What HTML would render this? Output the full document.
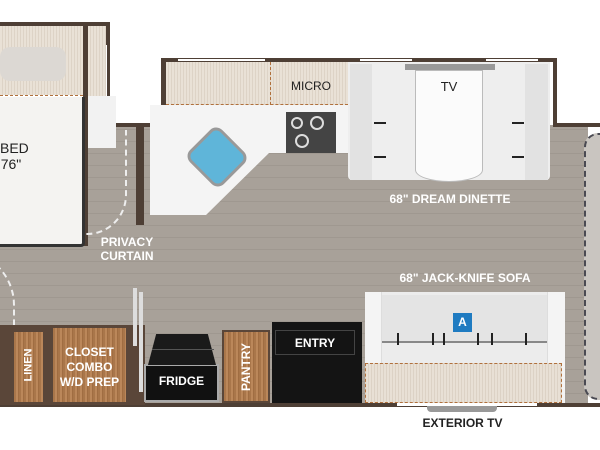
<!DOCTYPE html>
<html><head><style>
*{margin:0;padding:0;box-sizing:border-box}
body{width:600px;height:450px;background:#fff;position:relative;overflow:hidden;font-family:"Liberation Sans",sans-serif}
.a{position:absolute}
.floor{background:repeating-linear-gradient(0deg,#a8a199 0 11px,#9f9890 11px 12px)}
.wall{background:#4e3f35}
.wood{background:repeating-linear-gradient(90deg,#a9764a 0 2px,#bb875a 2px 4px,#a06d42 4px 5px)}
.lwood{background:repeating-linear-gradient(90deg,#e9e1d6 0 2px,#ddd3c6 2px 3px)}
.t{position:absolute;font-weight:bold;text-align:center;line-height:14px}
.w{color:#fff}
.k{color:#222}
</style></head><body>
<div class="a floor" style="left:88px;top:125px;width:500px;height:280px"></div>
<div class="a floor" style="left:0;top:240px;width:100px;height:165px"></div>
<div class="a" style="left:584px;top:133px;width:20px;height:267px;background:#c9c5c0;border:2px dashed #4a4a52;border-right:none;border-radius:14px 0 0 14px"></div>
<div class="a wall" style="left:0;top:22px;width:110px;height:4px"></div>
<div class="a wall" style="left:83px;top:26px;width:5px;height:220px"></div>
<div class="a wall" style="left:106px;top:22px;width:4px;height:105px"></div>
<div class="a wall" style="left:106px;top:123px;width:60px;height:4px"></div>
<div class="a wall" style="left:161px;top:58px;width:5px;height:69px"></div>
<div class="a wall" style="left:161px;top:58px;width:396px;height:4px"></div>
<div class="a wall" style="left:553px;top:58px;width:4px;height:69px"></div>
<div class="a wall" style="left:553px;top:123px;width:47px;height:4px"></div>
<div class="a wall" style="left:136px;top:127px;width:8px;height:98px"></div>
<div class="a wall" style="left:0;top:403px;width:600px;height:4px"></div>
<div class="a" style="left:105px;top:45px;width:2px;height:70px;background:#fff"></div>
<div class="a" style="left:178px;top:59px;width:87px;height:2px;background:#fff"></div>
<div class="a" style="left:360px;top:59px;width:52px;height:2px;background:#fff"></div>
<div class="a" style="left:486px;top:59px;width:52px;height:2px;background:#fff"></div>
<div class="a lwood" style="left:0;top:26px;width:83px;height:69px"></div>
<div class="a" style="left:0;top:47px;width:66px;height:34px;background:#dcd8d3;border-radius:10px"></div>
<div class="a" style="left:0;top:95px;width:83px;height:2px;border-top:1px dashed #b0703c"></div>
<div class="a" style="left:0;top:97px;width:85px;height:150px;background:#f4f3f1;border:3px solid #333;border-left:none;border-top:none;border-radius:0 0 4px 0"></div>
<div class="t k" style="left:0;top:140px;width:22px;font-size:14px;font-weight:normal;line-height:16px">BED<br>76"</div>
<div class="a lwood" style="left:88px;top:26px;width:18px;height:70px"></div>
<div class="a" style="left:88px;top:96px;width:28px;height:52px;background:#f2f2f2"></div>
<div class="a" style="left:85px;top:130px;width:42px;height:105px;border-right:2px dashed #eee;border-bottom:2px dashed #eee;border-radius:0 0 40px 0"></div>
<div class="a" style="left:-40px;top:250px;width:55px;height:150px;border:2px dashed #eee;border-left:none;border-radius:0 60px 60px 0"></div>
<div class="t w" style="left:96px;top:235px;width:62px;font-size:12px">PRIVACY<br>CURTAIN</div>
<div class="a lwood" style="left:166px;top:62px;width:182px;height:43px"></div>
<div class="a" style="left:166px;top:104px;width:182px;height:2px;border-top:1px dashed #b0703c"></div>
<div class="a" style="left:270px;top:62px;width:2px;height:43px;border-left:1px dashed #b0703c"></div>
<div class="t k" style="left:280px;top:79px;width:62px;font-size:12px;font-weight:normal">MICRO</div>
<svg class="a" style="left:144px;top:105px" width="206" height="120"><polygon points="6,0 204,0 204,48 125,48 62,110 6,110" fill="#f4f4f4"/><rect x="142" y="7" width="50" height="41" fill="#444"/><circle cx="153" cy="18" r="5" fill="none" stroke="#ddd" stroke-width="2"/><circle cx="173" cy="18" r="6" fill="none" stroke="#ddd" stroke-width="2"/><circle cx="158" cy="36" r="6" fill="none" stroke="#ddd" stroke-width="2"/></svg>
<div class="a" style="left:193px;top:133px;width:48px;height:48px;background:#5fb5d9;border:3px solid #999;border-radius:9px;transform:rotate(45deg) scaleY(.95)"></div>
<div class="a" style="left:348px;top:62px;width:202px;height:118px;background:#eeeeee;border-radius:0 0 4px 4px"></div>
<div class="a" style="left:350px;top:64px;width:22px;height:116px;background:#e2e2e2"></div>
<div class="a" style="left:525px;top:64px;width:23px;height:116px;background:#e2e2e2"></div>
<div class="a" style="left:405px;top:64px;width:90px;height:6px;background:#999"></div>
<div class="a" style="left:415px;top:70px;width:68px;height:112px;background:#fbfbfb;border:1px solid #bbb;border-radius:0 0 34px 34px/0 0 12px 12px"></div>
<div class="t k" style="left:415px;top:80px;width:68px;font-size:13px;font-weight:normal">TV</div>
<div class="a" style="left:374px;top:122px;width:12px;height:2px;background:#222"></div>
<div class="a" style="left:374px;top:156px;width:12px;height:2px;background:#222"></div>
<div class="a" style="left:512px;top:122px;width:12px;height:2px;background:#222"></div>
<div class="a" style="left:512px;top:156px;width:12px;height:2px;background:#222"></div>
<div class="t w" style="left:370px;top:192px;width:160px;font-size:12px">68" DREAM DINETTE</div>
<div class="t w" style="left:380px;top:271px;width:170px;font-size:12px">68" JACK-KNIFE SOFA</div>
<div class="a" style="left:365px;top:292px;width:200px;height:111px;background:#ececec"></div>
<div class="a" style="left:365px;top:292px;width:17px;height:111px;background:#f4f4f4;border-right:1px solid #ddd"></div>
<div class="a" style="left:547px;top:292px;width:18px;height:111px;background:#f4f4f4;border-left:1px solid #ddd"></div>
<div class="a" style="left:382px;top:295px;width:165px;height:48px;background:#e4e4e4;border-bottom:2px solid #888"></div>
<div class="a" style="left:365px;top:363px;width:197px;height:40px;background:repeating-linear-gradient(90deg,#e8e0d5 0 2px,#dcd2c5 2px 3px);border:1px dashed #b0703c"></div>
<div class="a" style="left:453px;top:313px;width:19px;height:19px;background:#1f7bc1;color:#fff;font-size:12px;font-weight:bold;text-align:center;line-height:19px">A</div>
<div class="a" style="left:397px;top:333px;width:2px;height:12px;background:#222"></div>
<div class="a" style="left:432px;top:333px;width:2px;height:12px;background:#222"></div>
<div class="a" style="left:443px;top:333px;width:2px;height:12px;background:#222"></div>
<div class="a" style="left:477px;top:333px;width:2px;height:12px;background:#222"></div>
<div class="a" style="left:491px;top:333px;width:2px;height:12px;background:#222"></div>
<div class="a" style="left:525px;top:333px;width:2px;height:12px;background:#222"></div>
<div class="a" style="left:397px;top:403px;width:140px;height:3px;background:#fff"></div>
<div class="a" style="left:427px;top:406px;width:70px;height:6px;background:#999;border-radius:0 0 4px 4px"></div>
<div class="t k" style="left:400px;top:416px;width:125px;font-size:12px">EXTERIOR TV</div>
<div class="a wall" style="left:0;top:325px;width:145px;height:80px;background:#5a4639"></div>
<div class="a wood" style="left:14px;top:332px;width:29px;height:70px"></div>
<div class="a wood" style="left:53px;top:328px;width:73px;height:74px"></div>
<div class="t w" style="left:14px;top:360px;width:29px;font-size:11px;transform:rotate(-90deg)">LINEN</div>
<div class="t w" style="left:53px;top:345px;width:73px;font-size:12px;line-height:15px">CLOSET<br>COMBO<br>W/D PREP</div>
<div class="a" style="left:133px;top:288px;width:4px;height:58px;background:#ddd"></div>
<div class="a" style="left:139px;top:292px;width:4px;height:100px;background:#ddd"></div>
<div class="a" style="left:144px;top:364px;width:75px;height:38px;background:#111;border:2px solid #aaa"></div>
<div class="a" style="left:148px;top:334px;width:68px;height:31px;background:#1a1a1a;clip-path:polygon(12% 0,88% 0,100% 100%,0 100%)"></div>
<div class="a" style="left:152px;top:349px;width:62px;height:1px;background:#555"></div>
<div class="t w" style="left:144px;top:374px;width:75px;font-size:12px">FRIDGE</div>
<div class="a wood" style="left:222px;top:330px;width:48px;height:73px;border:2px solid #5a4639"></div>
<div class="t w" style="left:216px;top:360px;width:60px;font-size:12px;transform:rotate(-90deg)">PANTRY</div>
<div class="a" style="left:272px;top:322px;width:90px;height:81px;background:#141414"></div>
<div class="a" style="left:275px;top:330px;width:80px;height:25px;border:1px solid #444"></div>
<div class="t w" style="left:275px;top:336px;width:80px;font-size:12px">ENTRY</div>
</body></html>
